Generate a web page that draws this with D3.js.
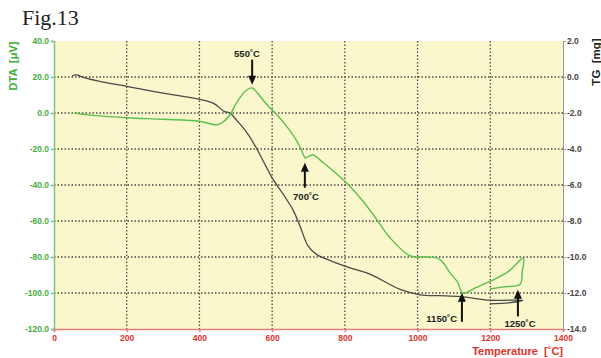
<!DOCTYPE html>
<html>
    <head>
        <title>Fig.13 DTA / TG</title>
        <style>
        html, body{
            margin: 0;
            border: 0;
            background: white;
        }
        svg{
            display: block;
            font-family: "Liberation Sans", Arial, sans-serif;
        }
        text{
            white-space: pre;
        }
        </style>
    </head>
    <body>
        <svg width="601" height="358"></svg>

        <script src="https://cdnjs.cloudflare.com/ajax/libs/d3/7.8.5/d3.min.js"></script>
        <script>
            // DTA curve (green), heating up to ~1290 then cooling back
            let dtaTemp  = [55, 100, 200, 300, 400, 448, 465, 487, 500, 514, 530, 545, 560, 580, 594, 620, 640, 660, 677, 692, 702, 712, 740, 770, 805, 850, 888, 924, 979, 1020, 1053, 1070, 1089, 1110, 1124, 1160, 1199, 1250, 1291, 1288, 1282, 1240, 1199];
            let dtaValue = [0, -1.2, -2.6, -3.5, -4.6, -6.5, -5, 0, 5, 9.2, 12.8, 13.9, 11, 6, 2.9, -2.5, -7.4, -13, -19, -25, -24, -23.2, -27.5, -32.5, -38.9, -49, -59.3, -69.3, -79.3, -80, -80.5, -83, -88.7, -94, -100, -97, -93.6, -88, -80.6, -88, -95.2, -96.5, -97.8];

            // TG curve (dark grey)
            let tgTemp  = [50, 58, 66, 75, 120, 200, 300, 404, 440, 468, 484, 500, 531, 558, 600, 630, 657, 677, 699, 723, 760, 814, 869, 952, 1007, 1060, 1117, 1199, 1250, 1290, 1250, 1199];
            let tgValue = [0.05, 0.12, 0.1, 0.02, -0.22, -0.52, -0.9, -1.26, -1.48, -1.91, -2.0, -2.35, -3.1, -4.0, -5.6, -6.5, -7.37, -8.3, -9.4, -9.87, -10.2, -10.6, -10.95, -11.8, -12.1, -12.15, -12.2, -12.4, -12.4, -12.4, -12.55, -12.6];

            let xTicks = [0, 200, 400, 600, 800, 1000, 1200, 1400];
            let dtaTicks = [40, 20, 0, -20, -40, -60, -80, -100, -120];
            let tgTicks = [2, 0, -2, -4, -6, -8, -10, -12, -14];

            // arrows: temperature, tip and tail on the DTA scale
            let noteText = ["550˚C", "700˚C", "1150˚C", "1250˚C"];
            let noteTemp = [545, 690, 1122, 1276];
            let noteTip  = [15.7, -27.6, -99.8, -98.2];
            let noteTail = [29.6, -41.5, -116, -113];

            let margin = {top: 41, right: 38, bottom: 29, left: 54};
            let width = 601, height = 358;

            let x = d3.scaleLinear().domain([0, 1400]).range([margin.left, width - margin.right]);
            let yL = d3.scaleLinear().domain([-120, 40]).range([height - margin.bottom, margin.top]);
            let yR = d3.scaleLinear().domain([-14, 2]).range([height - margin.bottom, margin.top]);

            let svg = d3.select("svg");

            svg.append("text")
                .attr("x", 22).attr("y", 25)
                .style("font-family", "'Liberation Serif', 'Times New Roman', serif")
                .style("font-size", "22px")
                .attr("fill", "#222")
                .text("Fig.13");

            svg.append("rect")
                .attr("x", x(0)).attr("y", yL(40))
                .attr("width", x(1400) - x(0))
                .attr("height", yL(-120) - yL(40))
                .attr("fill", "#f9f7cb");

            // grid
            let grid = svg.append("g")
                .attr("stroke", "#4a4a4a")
                .attr("stroke-width", 1.3)
                .attr("stroke-dasharray", "1.5,2");
            grid.selectAll(".gx")
                .data(xTicks.filter(d => d > 0 && d < 1400))
                .join("line")
                .attr("x1", d => x(d)).attr("x2", d => x(d))
                .attr("y1", yL(40)).attr("y2", yL(-120));
            grid.selectAll(".gy")
                .data(dtaTicks.filter(d => d > -120 && d < 40))
                .join("line")
                .attr("x1", x(0)).attr("x2", x(1400))
                .attr("y1", d => yL(d)).attr("y2", d => yL(d));

            // axes
            let fmt = d => d.toFixed(1);

            let leftAxis = svg.append("g")
                .attr("transform", "translate(" + x(0) + ",0)")
                .call(d3.axisLeft(yL).tickValues(dtaTicks).tickFormat(fmt).tickSize(3).tickPadding(2));
            leftAxis.selectAll("path, line").attr("stroke", "#7cc87a").attr("stroke-width", 1.5);
            leftAxis.selectAll("text").attr("fill", "#3fae3c");

            let rightAxis = svg.append("g")
                .attr("transform", "translate(" + x(1400) + ",0)")
                .call(d3.axisRight(yR).tickValues(tgTicks).tickFormat(fmt).tickSize(3).tickPadding(1));
            rightAxis.selectAll("path, line").attr("stroke", "#999").attr("stroke-width", 1);
            rightAxis.selectAll("text").attr("fill", "#444");

            let bottomAxis = svg.append("g")
                .attr("transform", "translate(0," + yL(-120) + ")")
                .call(d3.axisBottom(x).tickValues(xTicks).tickFormat(d3.format("d")).tickSize(3).tickPadding(3));
            bottomAxis.selectAll("path, line").attr("stroke", "#e08080").attr("stroke-width", 1.5);
            bottomAxis.selectAll("text").attr("fill", "#d9342b");

            svg.selectAll(".tick text")
                .style("font-size", "8.5px")
                .style("font-weight", "bold")
                .style("font-family", "'Liberation Sans', Arial, sans-serif");
            svg.selectAll(".domain").attr("fill", "none");

            // axis titles
            svg.append("text")
                .attr("transform", "translate(17,66) rotate(-90)")
                .attr("text-anchor", "middle")
                .style("font-size", "11px").style("font-weight", "bold")
                .attr("fill", "#3fae3c")
                .text("DTA  [μV]");

            svg.append("text")
                .attr("transform", "translate(600,62) rotate(-90)")
                .attr("text-anchor", "middle")
                .style("font-size", "11.5px").style("font-weight", "bold")
                .attr("fill", "#222")
                .text("TG  [mg]");

            svg.append("text")
                .attr("x", x(1400)).attr("y", 355)
                .attr("text-anchor", "end")
                .style("font-size", "11px").style("font-weight", "bold")
                .attr("fill", "#d9342b")
                .text("Temperature  [˚C]");

            // curves
            let tgLine = d3.line()
                .x((d, i) => x(tgTemp[i]))
                .y(d => yR(d))
                .curve(d3.curveCatmullRom);
            svg.append("path")
                .attr("d", tgLine(tgValue))
                .attr("fill", "none")
                .attr("stroke", "#4a4a4a")
                .attr("stroke-width", 1.3);

            let dtaLine = d3.line()
                .x((d, i) => x(dtaTemp[i]))
                .y(d => yL(d))
                .curve(d3.curveCatmullRom);
            svg.append("path")
                .attr("d", dtaLine(dtaValue))
                .attr("fill", "none")
                .attr("stroke", "#5cbf4f")
                .attr("stroke-width", 1.4);

            // arrows + labels
            let notes = svg.append("g");
            noteTemp.forEach((t, i) => {
                let ax = x(t), tip = yL(noteTip[i]), tail = yL(noteTail[i]);
                let dir = tail > tip ? 1 : -1;
                notes.append("line")
                    .attr("x1", ax).attr("x2", ax)
                    .attr("y1", tail).attr("y2", tip + dir * 7)
                    .attr("stroke", "#111").attr("stroke-width", 2);
                notes.append("path")
                    .attr("d", "M" + ax + "," + tip + "L" + (ax - 4) + "," + (tip + dir * 9) + "L" + (ax + 4) + "," + (tip + dir * 9) + "Z")
                    .attr("fill", "#111");
            });

            let labelX = [247, 306, 457, 520];
            let labelY = [57, 200, 322, 327];
            let anchors = ["middle", "middle", "end", "middle"];
            noteText.forEach((s, i) => {
                notes.append("text")
                    .attr("x", labelX[i]).attr("y", labelY[i])
                    .attr("text-anchor", anchors[i])
                    .style("font-size", "9.5px").style("font-weight", "bold")
                    .attr("fill", "#222")
                    .text(s);
            });
        </script>
    </body>
</html>
